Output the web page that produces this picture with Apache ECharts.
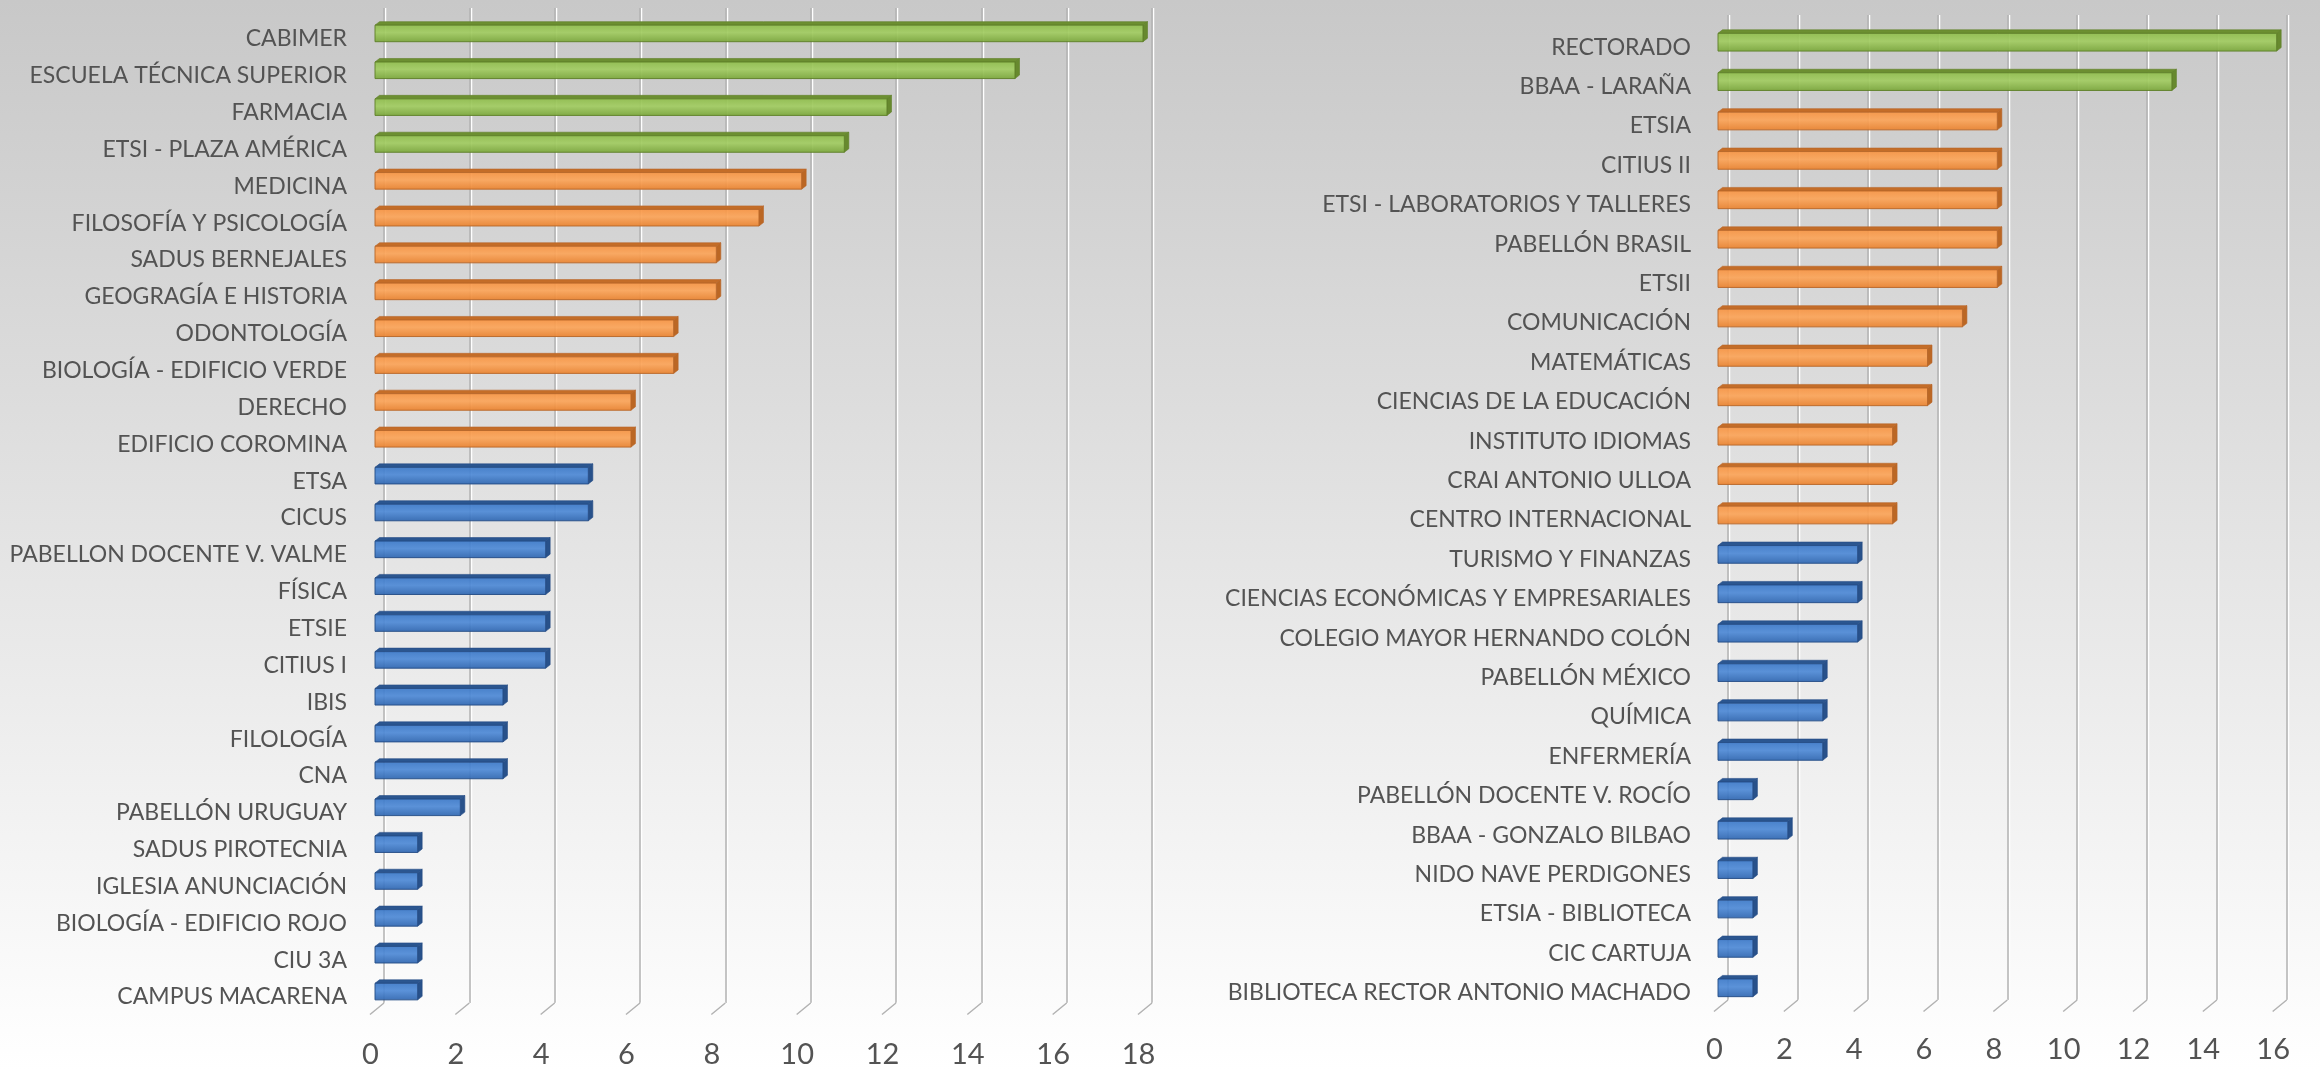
<!DOCTYPE html>
<html>
<head>
<meta charset="utf-8">
<script src="https://cdn.jsdelivr.net/npm/echarts@6/dist/echarts.min.js"></script>
<style>
html,body{margin:0;padding:0;background:#fff;}
#c{width:2320px;height:1070px;}
</style>
</head>
<body>
<div id="c"></div>
<script>
// ---------- DATA ----------
const leftCategories = [
  'CABIMER','ESCUELA TÉCNICA SUPERIOR','FARMACIA','ETSI - PLAZA AMÉRICA','MEDICINA',
  'FILOSOFÍA Y PSICOLOGÍA','SADUS BERNEJALES','GEOGRAGÍA E HISTORIA','ODONTOLOGÍA',
  'BIOLOGÍA - EDIFICIO VERDE','DERECHO','EDIFICIO COROMINA','ETSA','CICUS',
  'PABELLON DOCENTE V. VALME','FÍSICA','ETSIE','CITIUS I','IBIS','FILOLOGÍA','CNA',
  'PABELLÓN URUGUAY','SADUS PIROTECNIA','IGLESIA ANUNCIACIÓN','BIOLOGÍA - EDIFICIO ROJO',
  'CIU 3A','CAMPUS MACARENA'
];
const leftValues = [18,15,12,11,10,9,8,8,7,7,6,6,5,5,4,4,4,4,3,3,3,2,1,1,1,1,1];
const leftGroups = [
  'green','green','green','green',
  'orange','orange','orange','orange','orange','orange','orange','orange',
  'blue','blue','blue','blue','blue','blue','blue','blue','blue','blue','blue','blue','blue','blue','blue'
];
const leftTicks = [0,2,4,6,8,10,12,14,16,18];

const rightCategories = [
  'RECTORADO','BBAA - LARAÑA','ETSIA','CITIUS II','ETSI - LABORATORIOS Y TALLERES',
  'PABELLÓN BRASIL','ETSII','COMUNICACIÓN','MATEMÁTICAS','CIENCIAS DE LA EDUCACIÓN',
  'INSTITUTO IDIOMAS','CRAI ANTONIO ULLOA','CENTRO INTERNACIONAL','TURISMO Y FINANZAS',
  'CIENCIAS ECONÓMICAS Y EMPRESARIALES','COLEGIO MAYOR HERNANDO COLÓN','PABELLÓN MÉXICO',
  'QUÍMICA','ENFERMERÍA','PABELLÓN DOCENTE V. ROCÍO','BBAA - GONZALO BILBAO',
  'NIDO NAVE PERDIGONES','ETSIA - BIBLIOTECA','CIC CARTUJA','BIBLIOTECA RECTOR ANTONIO MACHADO'
];
const rightValues = [16,13,8,8,8,8,8,7,6,6,5,5,5,4,4,4,3,3,3,1,2,1,1,1,1];
const rightGroups = [
  'green','green',
  'orange','orange','orange','orange','orange','orange','orange','orange','orange','orange','orange',
  'blue','blue','blue','blue','blue','blue','blue','blue','blue','blue','blue','blue'
];
const rightTicks = [0,2,4,6,8,10,12,14,16];

// ---------- STYLE ----------
const PALETTE = {
  green:  {hi:'#a2cc62', mid:'#8fbd4c', lo:'#7aa63b', top:'#6c8f31', side:'#67892e', edge:'#5f8029'},
  orange: {hi:'#fba55a', mid:'#f79443', lo:'#e9822f', top:'#c46d28', side:'#bb6724', edge:'#b8672a'},
  blue:   {hi:'#4f8ad6', mid:'#3c79c8', lo:'#2f66b0', top:'#2b5690', side:'#28518a', edge:'#264e86'}
};
const FONT = 'Lato';
const TEXT = '#535353';
const GRID_LINE = '#b2b2b2';

function barRenderer(groups, offX, offY) {
  return function (params, api) {
    const v = api.value(0), idx = api.value(1);
    const p0 = api.coord([0, idx]);
    const p1 = api.coord([v, idx]);
    const band = api.size([0, 1])[1];
    const h = band * 0.45;
    const x0 = p0[0] + offX, x1 = p1[0] + offX;
    const yc = p0[1] + offY;
    const yT = yc - h / 2, yB = yc + h / 2;
    const dx = 4.5, dy = -3.5;
    const pal = PALETTE[groups[params.dataIndex]];
    return {
      type: 'group',
      children: [
        {type: 'polygon', shape: {points: [[x0, yT], [x1, yT], [x1 + dx, yT + dy], [x0 + dx, yT + dy]]},
         style: {fill: pal.top, stroke: pal.edge, lineWidth: 0.6}},
        {type: 'polygon', shape: {points: [[x1, yT], [x1 + dx, yT + dy], [x1 + dx, yB + dy], [x1, yB]]},
         style: {fill: pal.side, stroke: pal.edge, lineWidth: 0.6}},
        {type: 'rect', shape: {x: x0, y: yT, width: x1 - x0, height: h},
         style: {
           fill: {type: 'linear', x: 0, y: 0, x2: 0, y2: 1, colorStops: [
             {offset: 0, color: pal.mid}, {offset: 0.45, color: pal.hi}, {offset: 1, color: pal.lo}]},
           stroke: pal.edge, lineWidth: 1, opacity: 0.93
         }}
      ]
    };
  };
}

function floorTickRenderer(params, api) {
  const x = api.coord([api.value(0), 0])[0];
  const cs = params.coordSys;
  const yb = cs.y + cs.height;
  return {
    type: 'group',
    children: [
      {type: 'line', shape: {x1: x + 1, y1: yb, x2: x - 13, y2: yb + 11.5},
       style: {stroke: '#ffffff', lineWidth: 1.5}},
      {type: 'line', shape: {x1: x, y1: yb, x2: x - 14, y2: yb + 11.5},
       style: {stroke: GRID_LINE, lineWidth: 1.5}}
    ]
  };
}

function makeXAxis(gridIndex, max, margin) {
  return {
    type: 'value', gridIndex: gridIndex, min: 0, max: max, interval: 2,
    axisLine: {show: false}, axisTick: {show: false},
    splitLine: {show: true, lineStyle: {color: GRID_LINE, width: 1.5,
      shadowColor: '#ffffff', shadowOffsetX: 1.5, shadowBlur: 0}},
    axisLabel: {fontFamily: FONT, fontSize: 29, color: TEXT, margin: margin, lineHeight: 30,
      padding: [0, 27, 0, 0]}
  };
}
function makeYAxis(gridIndex, cats) {
  return {
    type: 'category', gridIndex: gridIndex, inverse: true, data: cats,
    axisLine: {show: false}, axisTick: {show: false}, splitLine: {show: false},
    axisLabel: {fontFamily: FONT, fontSize: 23, color: TEXT, margin: 37,
      verticalAlign: 'top', lineHeight: 25, interval: 0}
  };
}

const chart = echarts.init(document.getElementById('c'), null, {renderer: 'canvas'});
chart.setOption({
  backgroundColor: {type: 'linear', x: 0, y: 0, x2: 0, y2: 1,
    colorStops: [{offset: 0, color: '#c8c8c8'}, {offset: 1, color: '#ffffff'}]},
  animation: false,
  grid: [
    {left: 384, top: 8, width: 768, height: 999},
    {left: 1728, top: 15, width: 565, height: 985}
  ],
  xAxis: [makeXAxis(0, 18, 37), makeXAxis(1, 16, 35)],
  yAxis: [makeYAxis(0, leftCategories), makeYAxis(1, rightCategories)],
  series: [
    {type: 'custom', xAxisIndex: 0, yAxisIndex: 0, clip: false,
     data: leftTicks.map(t => [t, 0]), renderItem: floorTickRenderer, silent: true},
    {type: 'custom', xAxisIndex: 1, yAxisIndex: 1, clip: false,
     data: rightTicks.map(t => [t, 0]), renderItem: floorTickRenderer, silent: true},
    {type: 'custom', xAxisIndex: 0, yAxisIndex: 0, clip: false,
     encode: {x: 0, y: 1},
     data: leftValues.map((v, i) => [v, i]), renderItem: barRenderer(leftGroups, -9, 7)},
    {type: 'custom', xAxisIndex: 1, yAxisIndex: 1, clip: false,
     encode: {x: 0, y: 1},
     data: rightValues.map((v, i) => [v, i]), renderItem: barRenderer(rightGroups, -10, 7.5)}
  ]
});
</script>
</body>
</html>
